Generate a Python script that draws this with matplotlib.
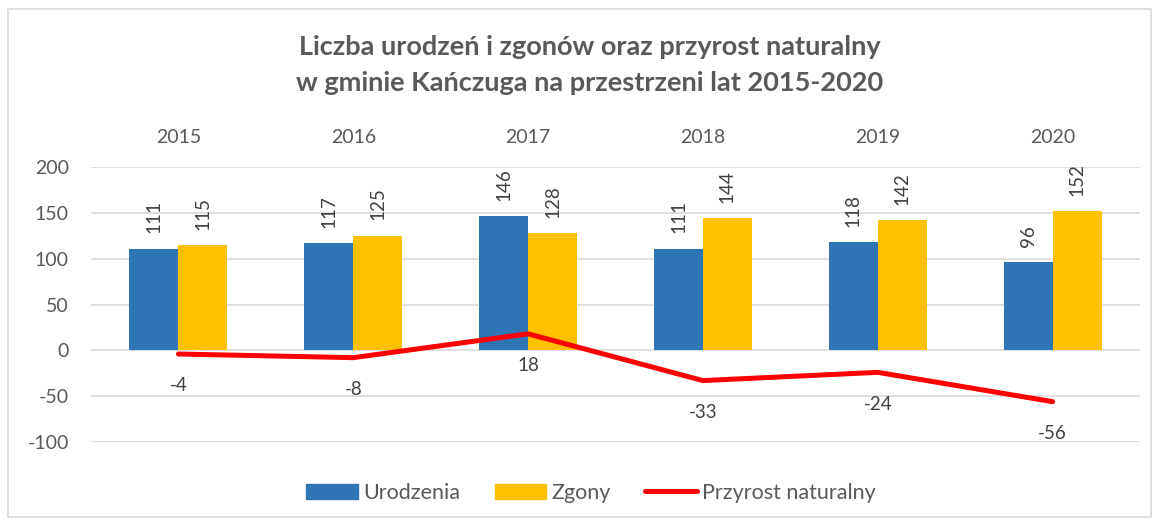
import numpy as np
import matplotlib.pyplot as plt
from matplotlib.patches import Rectangle, Patch
from matplotlib.lines import Line2D

years = ['2015', '2016', '2017', '2018', '2019', '2020']
urodzenia = [111, 117, 146, 111, 118, 96]
zgony = [115, 125, 128, 144, 142, 152]
przyrost = [-4, -8, 18, -33, -24, -56]

BLUE = '#2E75B6'
GOLD = '#FFC000'
RED = '#FF0000'
GREY = '#595959'

plt.rcParams['font.family'] = ['Lato', 'DejaVu Sans']
plt.rcParams['axes.unicode_minus'] = False

fig = plt.figure(figsize=(11.59, 5.25), dpi=100)
# chart border
fig.patches.append(Rectangle((8 / 1159, 8 / 525), 1143 / 1159, 508 / 525,
                             transform=fig.transFigure, fill=False,
                             edgecolor='#D9D9D9', linewidth=1.2))

ax = fig.add_axes([91 / 1159, (525 - 442) / 525, 1049 / 1159, 275 / 525])

x = np.arange(len(years))
w = 0.28
b1 = ax.bar(x - w / 2, urodzenia, w, color=BLUE, zorder=2)
b2 = ax.bar(x + w / 2, zgony, w, color=GOLD, zorder=2)
ax.plot(x, przyrost, color=RED, lw=3.6, solid_capstyle='round', zorder=3)

# bar values, rotated above each bar
for rects, vals in ((b1, urodzenia), (b2, zgony)):
    for r, v in zip(rects, vals):
        ax.annotate(str(v), (r.get_x() + r.get_width() / 2, v),
                    xytext=(0, 11), textcoords='offset points',
                    rotation=90, ha='center', va='bottom',
                    fontsize=13.5, color='#404040')

# line values below points
for xi, v in zip(x, przyrost):
    ax.annotate(str(v), (xi, v), xytext=(0, -23), textcoords='offset points',
                ha='center', va='center', fontsize=13.5, color='#404040')

ax.set_xlim(-0.5, len(years) - 0.5)
ax.set_ylim(-100, 200)
ax.set_yticks(range(-100, 201, 50))
ax.set_xticks(x)
ax.set_xticklabels(years)
ax.xaxis.set_ticks_position('top')
ax.tick_params(axis='x', length=0, pad=15, labelsize=14, labelcolor=GREY)
ax.tick_params(axis='y', length=0, pad=16, labelsize=14, labelcolor=GREY)
ax.grid(axis='y', color='#D9D9D9', lw=1.2, zorder=0)
ax.set_axisbelow(True)
for s in ax.spines.values():
    s.set_visible(False)

fig.text(0.509, 1 - 47 / 525, 'Liczba urodzeń i zgonów oraz przyrost naturalny',
         ha='center', va='center', fontsize=19.5, fontweight='bold', color=GREY)
fig.text(0.509, 1 - 83 / 525, 'w gminie Kańczuga na przestrzeni lat 2015-2020',
         ha='center', va='center', fontsize=19.5, fontweight='bold', color=GREY)

handles = [Patch(color=BLUE), Patch(color=GOLD),
           Line2D([0], [0], color=RED, lw=3.6, solid_capstyle='round')]
leg = fig.legend(handles, ['Urodzenia', 'Zgony', 'Przyrost naturalny'],
                 loc='center', bbox_to_anchor=(0.51, 1 - 493 / 525), ncol=3,
                 frameon=False, fontsize=15.5, handlelength=2.4, handleheight=0.75,
                 handletextpad=0.25, columnspacing=1.6)
for t in leg.get_texts():
    t.set_color(GREY)

fig.savefig('out.png', dpi=100)
